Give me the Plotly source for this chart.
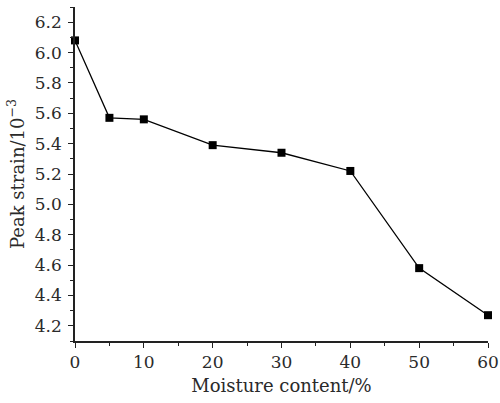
import plotly.graph_objects as go

moisture = [0, 5, 10, 20, 30, 40, 50, 60]
peak_strain = [6.08, 5.57, 5.56, 5.39, 5.34, 5.22, 4.58, 4.27]

x_ticks = [0, 10, 20, 30, 40, 50, 60]
y_ticks = [4.2, 4.4, 4.6, 4.8, 5.0, 5.2, 5.4, 5.6, 5.8, 6.0, 6.2]

font_family = "DejaVu Serif, Liberation Serif, serif"
txt = "#2a2a2a"

fig = go.Figure()
fig.add_trace(go.Scatter(
    x=moisture, y=peak_strain, mode="lines+markers",
    line=dict(color="black", width=1.3),
    marker=dict(symbol="square", size=8, color="black"),
    cliponaxis=False, showlegend=False,
))

axis_common = dict(
    showline=True, linecolor="#222", linewidth=1.5, mirror=False,
    ticks="outside", ticklen=5, tickwidth=1.3, tickcolor="#222",
    showgrid=False, zeroline=False, automargin=False,
    tickfont=dict(family=font_family, size=17, color=txt),
)

fig.update_xaxes(
    range=[0, 60], tickvals=x_ticks, ticktext=[str(v) for v in x_ticks],
    minor=dict(ticks="outside", dtick=5, ticklen=3, tickwidth=1.2, tickcolor="#222"),
    title=dict(text="Moisture content/%", font=dict(family=font_family, size=18, color=txt), standoff=8),
    **axis_common,
)
fig.update_yaxes(
    range=[4.1, 6.3], tickvals=y_ticks, ticktext=[f"{v:.1f}" for v in y_ticks],
    minor=dict(ticks="outside", dtick=0.1, tick0=4.1, ticklen=3, tickwidth=1.2, tickcolor="#222"),
    title=dict(text="Peak strain/10<sup>−3</sup>", font=dict(family=font_family, size=18, color=txt), standoff=6),
    ticklabelstandoff=3,
    **axis_common,
)

fig.update_layout(
    width=500, height=403,
    margin=dict(l=75, r=12, t=7, b=62),
    plot_bgcolor="white", paper_bgcolor="white",
)

fig.write_html("out.html", config={"displayModeBar": False},
               post_script="document.body.style.margin='0';document.body.style.overflow='hidden';")
